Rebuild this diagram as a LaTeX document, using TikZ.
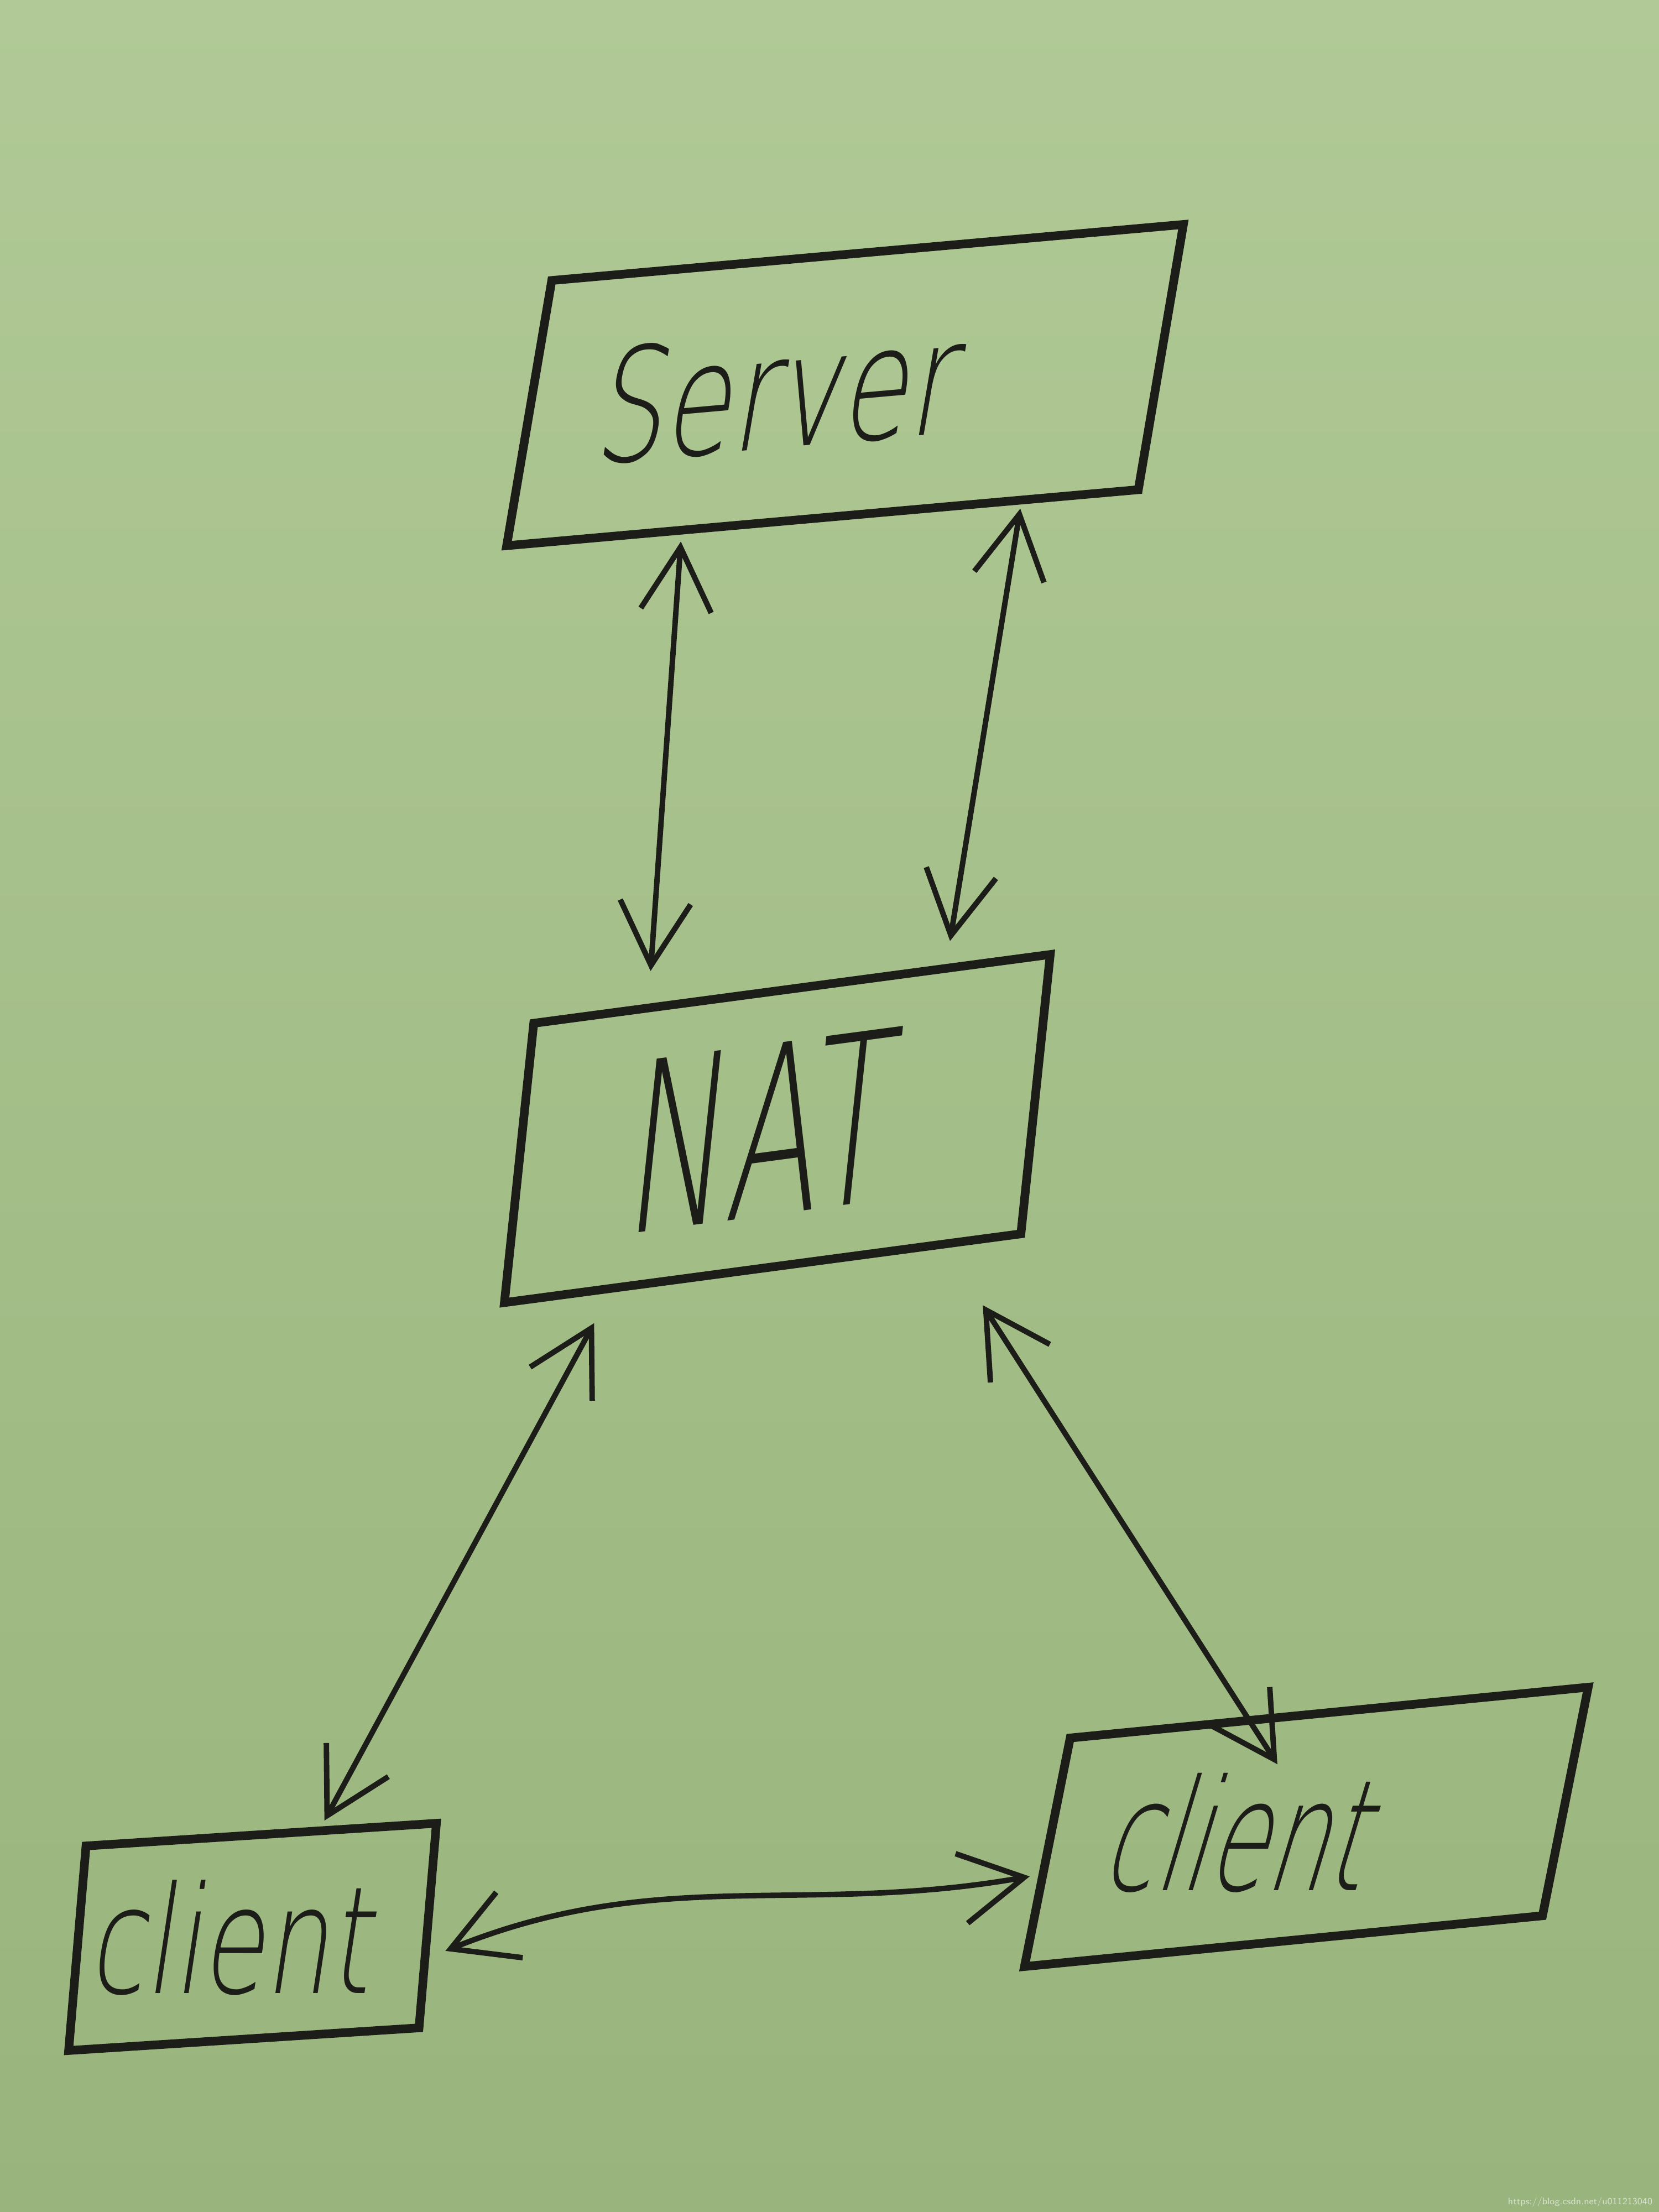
\documentclass[tikz,border=0pt]{standalone}
\usepackage{fontspec}
\usepackage{xcolor}
\usepackage{graphicx}
\usepackage{tikz}
\usetikzlibrary{arrows.meta,calc}
\newfontfamily\handfont{DejaVu Sans ExtraLight}
\definecolor{PaperLight}{HTML}{B0C996}
\definecolor{PaperDark}{HTML}{99B47C}
\definecolor{PenInk}{HTML}{1C1D18}
\definecolor{MarkGray}{HTML}{D9E2D2}
\newcommand{\handtext}[2]{\scalebox{#1}[1]{#2}}

\begin{document}
\begin{tikzpicture}[x=1cm,y=1cm,>={Straight Barb[length=4.5mm,width=5mm]},
  box/.style={draw=PenInk,line width=1.75pt,inner sep=0pt,minimum width=#1,text=PenInk},
  link/.style={PenInk,line width=1.1pt,<->}]
  \shade[top color=PaperLight,bottom color=PaperDark] (0,0) rectangle (11.76,15.68);
  \useasboundingbox (0,0) rectangle (11.76,15.68);
  \node[box=4.41cm,minimum height=1.88cm,xslant=0.17,yslant=0.09,
    font=\handfont\fontsize{32}{32}\selectfont] (server) at (5.99,12.95)
    {\handtext{.68}{Server}\kern.88cm};
  \node[box=3.61cm,minimum height=1.98cm,xslant=0.105,yslant=0.135,
    font=\handfont\fontsize{48}{48}\selectfont] (nat) at (5.51,7.68)
    {\handtext{.56}{NAT}\kern.18cm};
  \node[box=2.47cm,minimum height=1.45cm,xslant=0.085,yslant=0.065,
    font=\handfont\fontsize{30}{30}\selectfont] (lclient) at (1.79,1.95)
    {\rotatebox{-3.7}{\handtext{.69}{client}}\kern.22cm};
  \node[box=3.6cm,minimum height=1.62cm,xslant=0.2,yslant=0.1,
    font=\handfont\fontsize{31}{31}\selectfont] (rclient) at (9.26,2.73)
    {\rotatebox{-5.7}{\handtext{.62}{client}}\kern.82cm};
  \draw[link] ($(server.south west)!0.28!(server.south east)+(0,-0.05)$)
    -- ($(nat.north west)!0.23!(nat.north east)+(0,0.23)$);
  \draw[link] ($(server.south west)!0.81!(server.south east)+(0,-0.03)$)
    -- ($(nat.north west)!0.80!(nat.north east)+(0,0.16)$);
  \draw[link] ($(nat.south west)!0.18!(nat.south east)+(0,-0.2)$)
    -- ($(lclient.north west)!0.675!(lclient.north east)+(0,0.04)$);
  \draw[link] ($(nat.south west)!0.92!(nat.south east)+(0,-0.44)$)
    -- ($(rclient.north west)!0.40!(rclient.north east)+(0,-0.36)$);
  \draw[link] ($(lclient.north east)!0.62!(lclient.south east)+(0.11,0)$)
    to[out=22,in=190] ($(rclient.north west)!0.6!(rclient.south west)+(-0.06,0)$);
  \node[anchor=south east,inner sep=0pt,text=MarkGray,
    font=\sffamily\fontsize{1.9}{2.2}\selectfont] (mark) at (11.72,0.03)
    {https://blog.csdn.net/u011213040};
\end{tikzpicture}
\end{document}
